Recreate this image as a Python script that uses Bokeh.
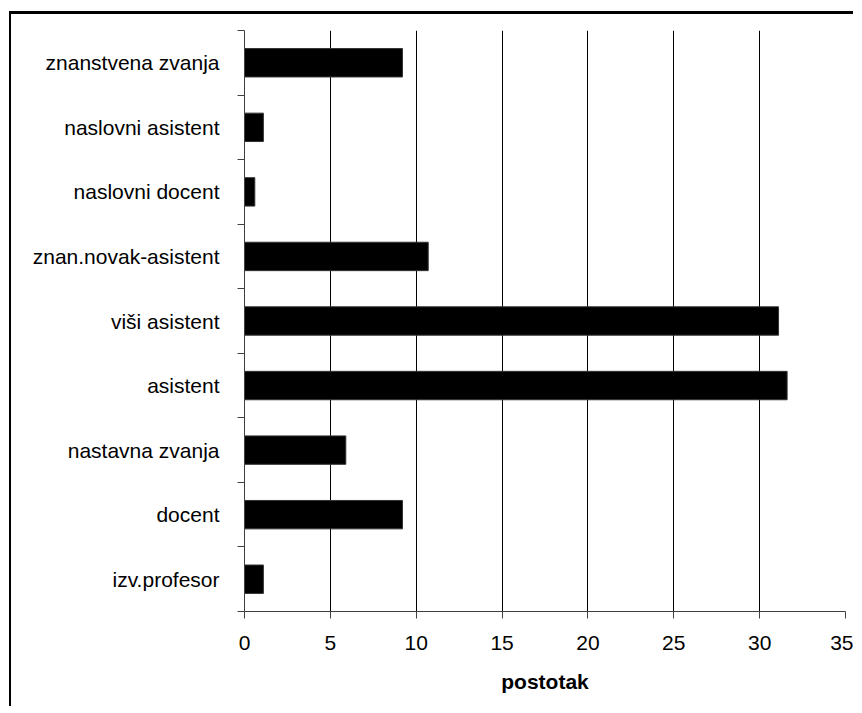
import numpy as np
from bokeh.plotting import figure
from bokeh.models import Range1d, FixedTicker, ColumnDataSource
from bokeh.embed import file_html
from bokeh.resources import INLINE

categories = ["izv.profesor", "docent", "nastavna zvanja", "asistent", "viši asistent",
              "znan.novak-asistent", "naslovni docent", "naslovni asistent", "znanstvena zvanja"]
values = [1.1, 9.2, 5.9, 31.6, 31.1, 10.7, 0.6, 1.1, 9.2]
x_ticks = [0, 5, 10, 15, 20, 25, 30, 35]
x_label = "postotak"

n = len(categories)
pos = [i + 0.5 for i in range(n)]
boundaries = list(range(n + 1))
src = ColumnDataSource(dict(y=pos, v=values, cat=categories))

FONT = "Liberation Sans"

p = figure(frame_width=601, frame_height=581,
           x_range=Range1d(x_ticks[0], x_ticks[-1]), y_range=Range1d(0, n),
           output_backend="svg", toolbar_location=None,
           min_border_left=233, min_border_right=8, min_border_top=16, min_border_bottom=95)
p.outline_line_color = None
p.styles = {"border-left": "2px solid black", "border-top": "3px solid black",
            "margin-left": "9px", "margin-top": "11px"}

p.hbar(y="y", right="v", left=0, height=0.44, source=src,
       fill_color="black", line_color="#333333", line_width=1)

# grid
p.xgrid.ticker = FixedTicker(ticks=x_ticks)
p.xgrid.grid_line_color = "black"
p.xgrid.grid_line_width = 1
p.ygrid.grid_line_color = None

# x axis
xa = p.xaxis[0]
xa.ticker = FixedTicker(ticks=x_ticks)
xa.major_tick_out = 7
xa.major_tick_in = 0
xa.minor_tick_out = 0
xa.minor_tick_in = 0
xa.axis_line_color = "#404040"
xa.major_tick_line_color = "#404040"
xa.major_label_text_font = FONT
xa.major_label_text_font_size = "21px"
xa.major_label_text_color = "black"
xa.major_label_standoff = 17
xa.axis_label = x_label
xa.axis_label_text_font = FONT
xa.axis_label_text_font_size = "21px"
xa.axis_label_text_font_style = "bold"
xa.axis_label_text_color = "black"
xa.axis_label_standoff = 17

# y axis
ya = p.yaxis[0]
ya.ticker = FixedTicker(ticks=pos, minor_ticks=boundaries)
ya.major_label_overrides = {float(y): c for y, c in zip(pos, categories)}
ya.major_tick_out = 0
ya.major_tick_in = 0
ya.minor_tick_out = 7
ya.minor_tick_in = 0
ya.axis_line_color = "#404040"
ya.minor_tick_line_color = "#404040"
ya.major_label_text_font = FONT
ya.major_label_text_font_size = "21px"
ya.major_label_text_color = "black"
ya.major_label_standoff = 18

open("out.html", "w").write(file_html(p, INLINE))
